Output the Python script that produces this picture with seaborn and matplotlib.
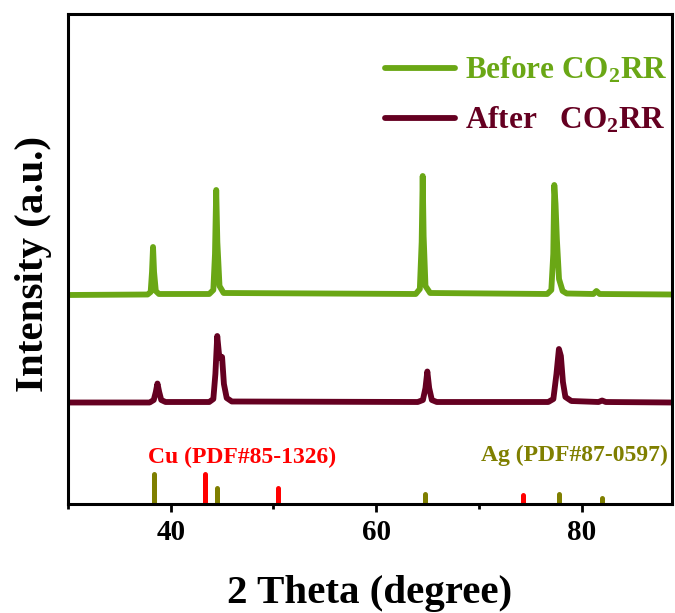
import numpy as np
import pandas as pd
import seaborn as sns
import matplotlib.pyplot as plt
from matplotlib.ticker import MultipleLocator, NullLocator

# XRD patterns (2 theta in degree, intensity in a.u.)
before_2theta = [30, 37.75, 38.05, 38.18, 38.28, 38.38, 38.55, 38.85,
                 43.75, 44.15, 44.31, 44.43, 44.54, 44.75, 45.15,
                 63.85, 64.25, 64.43, 64.53, 64.62, 64.8, 65.25,
                 76.65, 77.05, 77.24, 77.34, 77.46, 77.59, 77.8, 78.15, 78.55,
                 81.15, 81.44, 81.75, 88.8]
before_int = [209, 209.5, 212, 232, 257, 232, 213, 210,
              210, 214, 250, 314, 262, 218, 211,
              210, 215, 262, 328, 268, 218, 211,
              210, 214, 250, 319, 300, 265, 225, 213, 210.5,
              210, 213, 210, 209.5]

after_2theta = [30, 37.95, 38.35, 38.55, 38.71, 38.88, 39.08, 39.5,
                43.75, 44.15, 44.35, 44.53, 44.7, 44.86, 45.0, 45.18, 45.45, 45.95,
                64.05, 64.55, 64.8, 64.98, 65.16, 65.42, 65.9,
                76.75, 77.25, 77.55, 77.79, 77.98, 78.18, 78.42, 79.0,
                81.65, 81.99, 82.35, 88.8]
after_int = [101.5, 101.5, 104, 112, 120.5, 112, 104, 102,
             102, 105, 130, 168, 150, 146, 147, 120, 106, 102.5,
             102, 104, 116, 132.5, 116, 104, 102,
             102, 105, 130, 155, 148, 122, 107, 103,
             102, 103.5, 102, 101.5]

# reference patterns
cu_2theta = [43.3, 50.45, 74.25]
cu_int = [30, 16, 9]
ag_2theta = [38.35, 44.5, 64.75, 77.75, 81.95]
ag_int = [30, 16, 10, 10, 6]

green = '#6aa715'
wine = '#650021'
red = '#ff0000'
olive = '#7f7f00'

sns.set_style('ticks')
plt.rcParams['font.family'] = ['Liberation Serif', 'DejaVu Serif']
plt.rcParams['font.weight'] = 'bold'
plt.rcParams['axes.labelweight'] = 'bold'
plt.rcParams['text.color'] = 'black'
plt.rcParams['axes.labelcolor'] = 'black'
plt.rcParams['axes.edgecolor'] = 'black'
plt.rcParams['xtick.color'] = 'black'
plt.rcParams['mathtext.fontset'] = 'custom'
plt.rcParams['mathtext.rm'] = 'Liberation Serif:bold'
plt.rcParams['mathtext.bf'] = 'Liberation Serif:bold'
plt.rcParams['mathtext.it'] = 'Liberation Serif:bold'
plt.rcParams['mathtext.default'] = 'bf'
plt.rcParams['lines.solid_capstyle'] = 'round'

df_before = pd.DataFrame({'two_theta': before_2theta, 'intensity': before_int})
df_after = pd.DataFrame({'two_theta': after_2theta, 'intensity': after_int})

fig = plt.figure(figsize=(6.75, 6.13), dpi=100)
ax = fig.add_axes([0.1007, 0.1778, 0.8949, 0.7994])

sns.lineplot(data=df_before, x='two_theta', y='intensity', color=green,
             linewidth=4.2, sort=False, estimator=None, label='Before CO$_2$RR', ax=ax)
sns.lineplot(data=df_after, x='two_theta', y='intensity', color=wine,
             linewidth=4.2, sort=False, estimator=None, label='After   CO$_2$RR', ax=ax)

ax.vlines(ag_2theta, 0, ag_int, colors=olive, linewidth=3.6, capstyle='round')
ax.vlines(cu_2theta, 0, cu_int, colors=red, linewidth=3.6, capstyle='round')

ax.text(37.8, 47, 'Cu (PDF#85-1326)', color=red, fontsize=17, fontweight='bold',
        ha='left', va='center')
ax.text(88.4, 49, 'Ag (PDF#87-0597)', color=olive, fontsize=17, fontweight='bold',
        ha='right', va='center')

ax.set_xlim(30, 88.8)
ax.set_ylim(0, 490)
ax.xaxis.set_major_locator(MultipleLocator(20))
ax.xaxis.set_minor_locator(MultipleLocator(10))
ax.yaxis.set_major_locator(NullLocator())
ax.tick_params(axis='x', which='major', direction='out', length=6, width=2,
               labelsize=21, pad=5, color='black', labelcolor='black')
ax.tick_params(axis='x', which='minor', direction='out', length=3.5, width=2,
               color='black')
for lab in ax.get_xticklabels():
    lab.set_fontweight('bold')
for sp in ax.spines.values():
    sp.set_linewidth(2.2)
    sp.set_color('black')
    sp.set_visible(True)

ax.set_xlabel('2 Theta (degree)', fontsize=29.5, fontweight='bold', color='black')
ax.set_ylabel('Intensity (a.u.)', fontsize=29.5, fontweight='bold', color='black')
ax.xaxis.set_label_coords(0.5, -0.145)
ax.yaxis.set_label_coords(-0.027, 0.49)

leg = ax.legend(loc='upper right', bbox_to_anchor=(0.992, 0.916), frameon=False,
                fontsize=22.5, handlelength=2.25, handletextpad=0.3,
                labelspacing=0.62, borderpad=0, borderaxespad=0)
for txt, line in zip(leg.get_texts(), leg.get_lines()):
    txt.set_color(line.get_color())
    txt.set_fontweight('bold')
    line.set_linewidth(4.2)

fig.savefig('out.png', dpi=100)
